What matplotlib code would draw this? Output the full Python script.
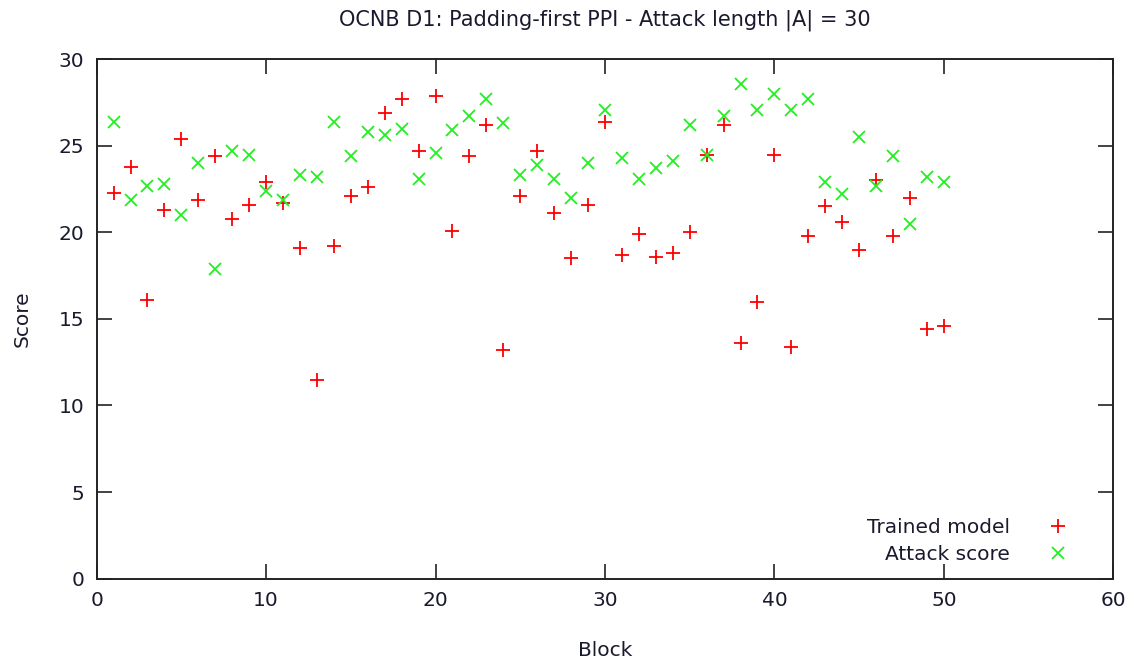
import matplotlib.pyplot as plt
import numpy as np

# Scores per block (blocks 1..50)
blocks = np.arange(1, 51)
trained_model = [
    22.3, 23.8, 16.1, 21.3, 25.4, 21.9, 24.4, 20.8, 21.6, 22.9,
    21.7, 19.1, 11.5, 19.2, 22.1, 22.6, 26.9, 27.7, 24.7, 27.9,
    20.1, 24.4, 26.2, 13.2, 22.1, 24.7, 21.1, 18.5, 21.6, 26.4,
    18.7, 19.9, 18.6, 18.8, 20.0, 24.5, 26.2, 13.6, 16.0, 24.5,
    13.4, 19.8, 21.5, 20.6, 19.0, 23.0, 19.8, 22.0, 14.4, 14.6,
]
attack_score = [
    26.4, 21.9, 22.7, 22.8, 21.0, 24.0, 17.9, 24.7, 24.5, 22.4,
    21.9, 23.3, 23.2, 26.4, 24.4, 25.8, 25.6, 26.0, 23.1, 24.6,
    25.9, 26.7, 27.7, 26.3, 23.3, 23.9, 23.1, 22.0, 24.0, 27.1,
    24.3, 23.1, 23.7, 24.1, 26.2, 24.5, 26.7, 28.6, 27.1, 28.0,
    27.1, 27.7, 22.9, 22.2, 25.5, 22.7, 24.4, 20.5, 23.2, 22.9,
]

plt.rcParams['font.family'] = ['DejaVu Sans']
text_color = '#1a1a2e'

fig = plt.figure(figsize=(11.41, 6.65), dpi=100)
ax = fig.add_axes([0.0847, 0.130, 0.8910, 0.7808])

ax.plot(blocks, trained_model, linestyle='none', marker='+', color='#ff0000',
        markersize=10, markeredgewidth=1.3, label='Trained model')
ax.plot(blocks, attack_score, linestyle='none', marker='x', color='#22ee22',
        markersize=9, markeredgewidth=1.3, label='Attack score')

ax.set_xlim(0, 60)
ax.set_ylim(0, 30)
ax.set_xticks(np.arange(0, 61, 10))
ax.set_yticks(np.arange(0, 31, 5))

ax.tick_params(direction='in', length=11, width=1.2, top=True, right=True,
               labelsize=14.5, pad=9, colors='#222222', labelcolor=text_color)
for spine in ax.spines.values():
    spine.set_linewidth(1.4)
    spine.set_color('#222222')

ax.set_title('OCNB D1: Padding-first PPI - Attack length |A| = 30',
             fontsize=15, color=text_color, pad=24)
ax.set_xlabel('Block', fontsize=14.5, color=text_color, labelpad=22)
ax.set_ylabel('Score', fontsize=14.5, color=text_color, labelpad=19)

ax.legend(loc='lower right', bbox_to_anchor=(0.956, 0.028), frameon=False,
          markerfirst=False, fontsize=14.5, handlelength=1.0,
          handletextpad=1.9, labelspacing=0.42, borderpad=0,
          borderaxespad=0, labelcolor=text_color)

plt.savefig('out.png', dpi=100)
